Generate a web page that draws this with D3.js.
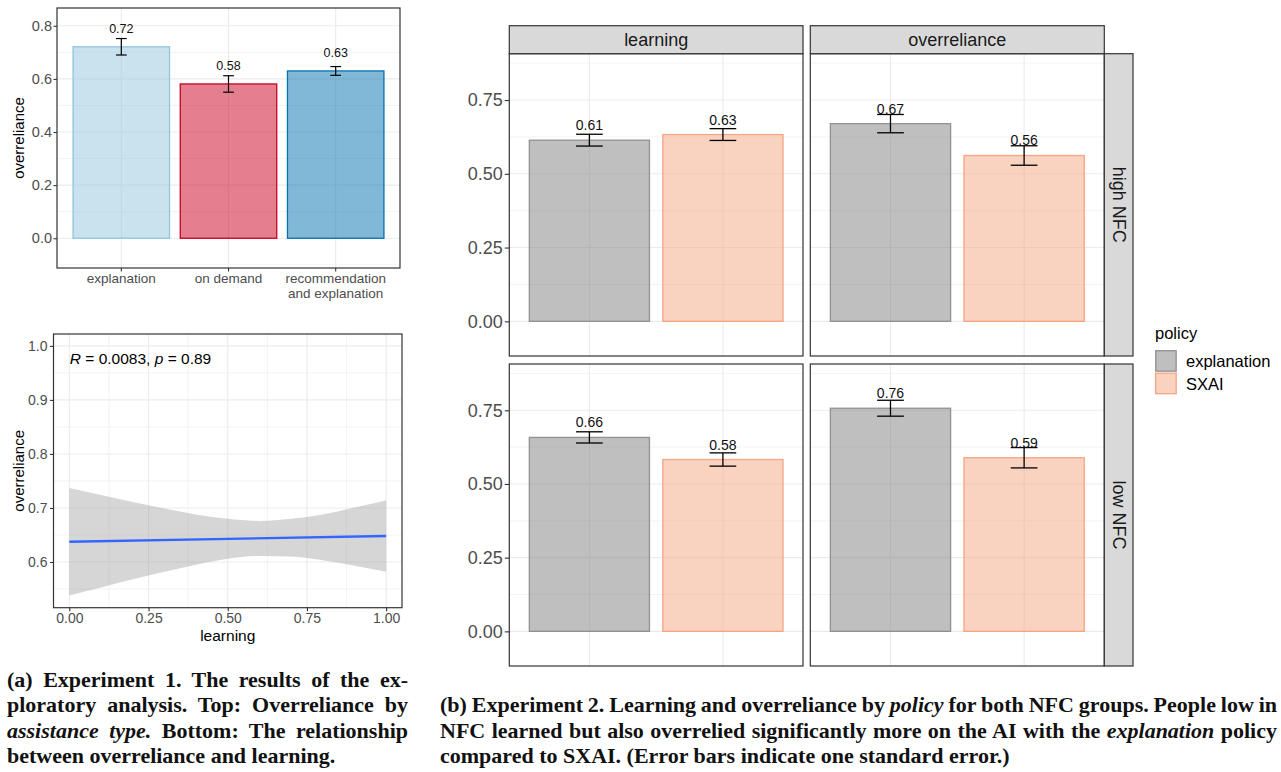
<!DOCTYPE html>
<html>
<head>
<meta charset="utf-8">
<script src="https://cdn.jsdelivr.net/npm/d3@7"></script>
<style>
  body { margin: 0; background: #fff; }
  svg { display: block; font-family: "Liberation Sans", Arial, sans-serif; }
  .cap { font-family: "Liberation Serif", "DejaVu Serif", serif; font-weight: bold; white-space: pre; }
</style>
</head>
<body>
<svg id="fig" width="1281" height="772"></svg>
<script>
// ---------- Experiment 1: overreliance by assistance type ----------
const assistTypes = ["explanation", "on demand", "recommendation and explanation"];
const assistTickLines = [["explanation"], ["on demand"], ["recommendation", "and explanation"]];
const assistMean = [0.721, 0.581, 0.630];
const assistSE = [0.031, 0.031, 0.0165];
const assistTicks = [0, 0.2, 0.4, 0.6, 0.8];
const assistMinor = [-0.1, 0.1, 0.3, 0.5, 0.7];

// ---------- Experiment 1: overreliance vs learning (linear fit + 95% band) ----------
const fitLearning = [0, 1];
const fitOverreliance = [0.6376, 0.6480];
const bandLearning = [0, 0.1, 0.2, 0.3, 0.4, 0.5, 0.6, 0.7, 0.8, 0.9, 1.0];
const bandUpper = [0.737, 0.724, 0.711, 0.699, 0.688, 0.680, 0.676, 0.680, 0.688, 0.701, 0.714];
const bandLower = [0.538, 0.553, 0.568, 0.582, 0.595, 0.606, 0.611, 0.610, 0.603, 0.593, 0.582];
const learningTicks = [0, 0.25, 0.5, 0.75, 1.0];
const learningMinor = [0.125, 0.375, 0.625, 0.875];
const relianceTicks = [0.6, 0.7, 0.8, 0.9, 1.0];
const relianceMinor = [0.55, 0.65, 0.75, 0.85, 0.95];
const corrR = "0.0083";
const corrP = "0.89";

// ---------- Experiment 2: learning / overreliance by policy and NFC ----------
const measures = ["learning", "overreliance"];
const nfcGroups = ["high NFC", "low NFC"];
const policies = ["explanation", "SXAI"];
const learningHighNFC = [0.614, 0.633];
const learningHighNFCse = [0.020, 0.020];
const overrelianceHighNFC = [0.670, 0.562];
const overrelianceHighNFCse = [0.031, 0.033];
const learningLowNFC = [0.658, 0.583];
const learningLowNFCse = [0.019, 0.0225];
const overrelianceLowNFC = [0.757, 0.589];
const overrelianceLowNFCse = [0.027, 0.0345];
const facetTicks = [0, 0.25, 0.5, 0.75];
const facetMinor = [0.125, 0.375, 0.625, 0.875];

// ---------- styles ----------
const assistColors = ["#92c5de", "#ca0020", "#0571b0"];
const policyFill = ["#7f7f7f", "#f4a582"];
const policyStroke = ["#7f7f7f", "#f4a582"];
const GRID = "#ebebeb", BORDER = "#333333", TICKTXT = "#4d4d4d";

const svg = d3.select("#fig");
svg.append("rect").attr("width", 1281).attr("height", 772).attr("fill", "#fff");

function hGrid(g, y, vals, x0, x1, w) {
  g.selectAll(null).data(vals).enter().append("line")
    .attr("x1", x0).attr("x2", x1).attr("y1", d => y(d)).attr("y2", d => y(d))
    .attr("stroke", GRID).attr("stroke-width", w);
}
function vGrid(g, xs, y0, y1, w) {
  g.selectAll(null).data(xs).enter().append("line")
    .attr("x1", d => d).attr("x2", d => d).attr("y1", y0).attr("y2", y1)
    .attr("stroke", GRID).attr("stroke-width", w);
}
function border(g, x0, y0, x1, y1) {
  g.append("rect").attr("x", x0).attr("y", y0).attr("width", x1 - x0).attr("height", y1 - y0)
    .attr("fill", "none").attr("stroke", BORDER).attr("stroke-width", 1.2);
}
function styleAxis(sel, size) {
  sel.select(".domain").remove();
  sel.selectAll(".tick line").attr("stroke", BORDER).attr("stroke-width", 1.1);
  sel.selectAll(".tick text").attr("fill", TICKTXT).attr("font-size", size)
    .attr("font-family", "'Liberation Sans', Arial, sans-serif");
}

// ================= Panel A: bars by assistance type =================
{
  const X0 = 57, X1 = 400, Y0 = 8, Y1 = 268;
  const x = d3.scaleBand().domain(assistTypes).range([X0, X1]).paddingInner(0.1).paddingOuter(0.15);
  const y = d3.scaleLinear().domain([-0.112, 0.867]).range([Y1, Y0]);
  const g = svg.append("g");
  g.append("rect").attr("x", X0).attr("y", Y0).attr("width", X1 - X0).attr("height", Y1 - Y0).attr("fill", "#fff");
  hGrid(g, y, assistMinor, X0, X1, 0.6);
  hGrid(g, y, assistTicks, X0, X1, 1.1);
  vGrid(g, assistTypes.map(c => x(c) + x.bandwidth() / 2), Y0, Y1, 1.1);

  const rows = assistTypes.map((c, i) => ({ c, m: assistMean[i], se: assistSE[i], col: assistColors[i] }));
  g.selectAll(".bar").data(rows).enter().append("rect")
    .attr("x", d => x(d.c)).attr("width", x.bandwidth())
    .attr("y", d => y(d.m)).attr("height", d => y(0) - y(d.m))
    .attr("fill", d => d.col).attr("fill-opacity", 0.5)
    .attr("stroke", d => d.col).attr("stroke-width", 1.3);

  const cap = x.step() * 0.1;
  const eb = g.selectAll(".eb").data(rows).enter().append("g")
    .attr("stroke", "#000").attr("stroke-width", 1.2);
  eb.append("line").attr("x1", d => x(d.c) + x.bandwidth() / 2).attr("x2", d => x(d.c) + x.bandwidth() / 2)
    .attr("y1", d => y(d.m - d.se)).attr("y2", d => y(d.m + d.se));
  [-1, 1].forEach(s => eb.append("line")
    .attr("x1", d => x(d.c) + x.bandwidth() / 2 - cap / 2).attr("x2", d => x(d.c) + x.bandwidth() / 2 + cap / 2)
    .attr("y1", d => y(d.m + s * d.se)).attr("y2", d => y(d.m + s * d.se)));

  g.selectAll(".lbl").data(rows).enter().append("text")
    .attr("x", d => x(d.c) + x.bandwidth() / 2).attr("y", d => y(d.m) - 13.5)
    .attr("text-anchor", "middle").attr("font-size", 12.5).attr("fill", "#111")
    .text(d => d3.format(".2f")(d.m));

  border(g, X0, Y0, X1, Y1);

  g.append("g").attr("transform", `translate(${X0},0)`)
    .call(d3.axisLeft(y).tickValues(assistTicks).tickFormat(d3.format(".1f")).tickSize(3.5).tickPadding(1.5))
    .call(styleAxis, 14.5);
  const ax = g.append("g").attr("transform", `translate(0,${Y1})`)
    .call(d3.axisBottom(x).tickSize(3.5).tickPadding(2))
    .call(styleAxis, 13.5);
  ax.selectAll(".tick text").each(function (d, i) {
    const t = d3.select(this).text(null);
    assistTickLines[i].forEach((ln, k) => t.append("tspan").attr("x", 0).attr("dy", k === 0 ? "0.71em" : "1.1em").text(ln));
  }).attr("dy", null);

  g.append("text").attr("transform", `translate(18,${(Y0 + Y1) / 2}) rotate(-90)`)
    .attr("text-anchor", "middle").attr("dominant-baseline", "central")
    .attr("font-size", 15).attr("fill", "#000").text("overreliance");
}

// ================= Panel B: overreliance vs learning =================
{
  const X0 = 53.5, X1 = 402, Y0 = 334, Y1 = 607.7;
  const x = d3.scaleLinear().domain([-0.05, 1.05]).range([X0, X1]);
  const y = d3.scaleLinear().domain([0.5154, 1.022]).range([Y1, Y0]);
  const g = svg.append("g");
  g.append("rect").attr("x", X0).attr("y", Y0).attr("width", X1 - X0).attr("height", Y1 - Y0).attr("fill", "#fff");
  hGrid(g, y, relianceMinor, X0, X1, 0.6);
  vGrid(g, learningMinor.map(x), Y0, Y1, 0.6);
  hGrid(g, y, relianceTicks, X0, X1, 1.1);
  vGrid(g, learningTicks.map(x), Y0, Y1, 1.1);

  const band = bandLearning.map((v, i) => ({ v, hi: bandUpper[i], lo: bandLower[i] }));
  g.append("path").datum(band)
    .attr("d", d3.area().x(d => x(d.v)).y0(d => y(d.lo)).y1(d => y(d.hi)).curve(d3.curveMonotoneX))
    .attr("fill", "#999999").attr("fill-opacity", 0.4);
  const fit = fitLearning.map((v, i) => ({ v, o: fitOverreliance[i] }));
  g.append("path").datum(fit)
    .attr("d", d3.line().x(d => x(d.v)).y(d => y(d.o)))
    .attr("fill", "none").attr("stroke", "#3366FF").attr("stroke-width", 2.4);

  const t = g.append("text").attr("x", x(0) + 0.5).attr("y", 363.5).attr("font-size", 15.5).attr("fill", "#000")
    .style("white-space", "pre");
  t.append("tspan").attr("font-style", "italic").text("R");
  t.append("tspan").text(" = " + corrR + ", ");
  t.append("tspan").attr("font-style", "italic").text("p");
  t.append("tspan").text(" = " + corrP);

  border(g, X0, Y0, X1, Y1);
  g.append("g").attr("transform", `translate(${X0},0)`)
    .call(d3.axisLeft(y).tickValues(relianceTicks).tickFormat(d3.format(".1f")).tickSize(3.5).tickPadding(2.5))
    .call(styleAxis, 14);
  g.append("g").attr("transform", `translate(0,${Y1})`)
    .call(d3.axisBottom(x).tickValues(learningTicks).tickFormat(d3.format(".2f")).tickSize(3.5).tickPadding(2))
    .call(styleAxis, 14);
  g.append("text").attr("x", (X0 + X1) / 2).attr("y", 640.5).attr("text-anchor", "middle")
    .attr("font-size", 15.5).attr("fill", "#000").text("learning");
  g.append("text").attr("transform", `translate(18,${(Y0 + Y1) / 2}) rotate(-90)`)
    .attr("text-anchor", "middle").attr("dominant-baseline", "central")
    .attr("font-size", 15).attr("fill", "#000").text("overreliance");
}

// ================= Panel C: faceted bars by policy =================
{
  const colX = [[509.3, 803], [810.3, 1104.3]];
  const rowY = [[53.7, 356], [364, 666]];
  const stripTop = 25.7, stripRight = 1133;
  const facets = [
    { m: 0, r: 0, mean: learningHighNFC, se: learningHighNFCse },
    { m: 1, r: 0, mean: overrelianceHighNFC, se: overrelianceHighNFCse },
    { m: 0, r: 1, mean: learningLowNFC, se: learningLowNFCse },
    { m: 1, r: 1, mean: overrelianceLowNFC, se: overrelianceLowNFCse }
  ];
  const g = svg.append("g");

  facets.forEach(f => {
    const [X0, X1] = colX[f.m], [Y0, Y1] = rowY[f.r];
    const x = d3.scaleBand().domain(policies).range([X0, X1]).paddingInner(0.1).paddingOuter(0.15);
    const y = d3.scaleLinear().domain([-0.1175, 0.907]).range([Y1, Y0]);
    const p = g.append("g");
    p.append("rect").attr("x", X0).attr("y", Y0).attr("width", X1 - X0).attr("height", Y1 - Y0).attr("fill", "#fff");
    hGrid(p, y, facetMinor, X0, X1, 0.6);
    hGrid(p, y, facetTicks, X0, X1, 1.1);
    vGrid(p, policies.map(c => x(c) + x.bandwidth() / 2), Y0, Y1, 1.1);

    const rows = policies.map((c, i) => ({ c, i, m: f.mean[i], se: f.se[i] }));
    p.selectAll(".bar").data(rows).enter().append("rect")
      .attr("x", d => x(d.c)).attr("width", x.bandwidth())
      .attr("y", d => y(d.m)).attr("height", d => y(0) - y(d.m))
      .attr("fill", d => policyFill[d.i]).attr("fill-opacity", 0.5)
      .attr("stroke", d => policyStroke[d.i]).attr("stroke-opacity", d => d.i === 0 ? 0.8 : 1)
      .attr("stroke-width", 1.3);

    const cap = x.step() * 0.2;
    const eb = p.selectAll(".eb").data(rows).enter().append("g")
      .attr("stroke", "#000").attr("stroke-width", 1.3);
    eb.append("line").attr("x1", d => x(d.c) + x.bandwidth() / 2).attr("x2", d => x(d.c) + x.bandwidth() / 2)
      .attr("y1", d => y(d.m - d.se)).attr("y2", d => y(d.m + d.se));
    [-1, 1].forEach(s => eb.append("line")
      .attr("x1", d => x(d.c) + x.bandwidth() / 2 - cap / 2).attr("x2", d => x(d.c) + x.bandwidth() / 2 + cap / 2)
      .attr("y1", d => y(d.m + s * d.se)).attr("y2", d => y(d.m + s * d.se)));

    p.selectAll(".lbl").data(rows).enter().append("text")
      .attr("x", d => x(d.c) + x.bandwidth() / 2).attr("y", d => y(d.m) - 10)
      .attr("text-anchor", "middle").attr("font-size", 14).attr("fill", "#111")
      .text(d => d3.format(".2f")(d.m));

    border(p, X0, Y0, X1, Y1);

    if (f.m === 0) {
      p.append("g").attr("transform", `translate(${X0},0)`)
        .call(d3.axisLeft(y).tickValues(facetTicks).tickFormat(d3.format(".2f")).tickSize(4.5).tickPadding(2))
        .call(styleAxis, 18);
    }
  });

  // column strips
  measures.forEach((mName, i) => {
    const [X0, X1] = colX[i];
    g.append("rect").attr("x", X0).attr("y", stripTop).attr("width", X1 - X0).attr("height", rowY[0][0] - stripTop)
      .attr("fill", "#d9d9d9").attr("stroke", BORDER).attr("stroke-width", 1.2);
    g.append("text").attr("x", (X0 + X1) / 2).attr("y", (stripTop + rowY[0][0]) / 2)
      .attr("text-anchor", "middle").attr("dominant-baseline", "central")
      .attr("font-size", 18).attr("fill", "#1a1a1a").text(mName);
  });
  // row strips
  nfcGroups.forEach((gName, j) => {
    const [Y0, Y1] = rowY[j];
    const sx0 = colX[1][1];
    g.append("rect").attr("x", sx0).attr("y", Y0).attr("width", stripRight - sx0).attr("height", Y1 - Y0)
      .attr("fill", "#d9d9d9").attr("stroke", BORDER).attr("stroke-width", 1.2);
    g.append("text").attr("transform", `translate(${(sx0 + stripRight) / 2},${(Y0 + Y1) / 2}) rotate(90)`)
      .attr("text-anchor", "middle").attr("dominant-baseline", "central")
      .attr("font-size", 18).attr("fill", "#1a1a1a").text(gName);
  });

  // legend
  const lg = g.append("g").attr("transform", "translate(1155,0)");
  lg.append("text").attr("x", 0).attr("y", 333).attr("dominant-baseline", "central")
    .attr("font-size", 16.5).attr("fill", "#000").text("policy");
  policies.forEach((pName, i) => {
    const ky = 350 + i * 22.5;
    lg.append("rect").attr("x", 0.7).attr("y", ky + 0.7).attr("width", 20.5).attr("height", 20.5)
      .attr("fill", policyFill[i]).attr("fill-opacity", 0.5)
      .attr("stroke", policyStroke[i]).attr("stroke-opacity", i === 0 ? 0.8 : 1).attr("stroke-width", 1.3);
    lg.append("text").attr("x", 31).attr("y", ky + 11).attr("dominant-baseline", "central")
      .attr("font-size", 16.5).attr("fill", "#000").text(pName);
  });
}

// ================= captions =================
function captionLine(x, y, parts, width) {
  const t = svg.append("text").attr("class", "cap").attr("x", x).attr("y", y)
    .attr("font-size", 22).attr("fill", "#111");
  parts.forEach(p => t.append("tspan").attr("font-style", p.i ? "italic" : null).text(p.t));
  if (width) {
    const node = t.node();
    const natural = node.getComputedTextLength();
    const spaces = (node.textContent.match(/ /g) || []).length;
    if (spaces) t.attr("word-spacing", (width - natural) / spaces);
  }
}
const capA = [
  [{ t: "(a) Experiment 1. The results of the ex-" }],
  [{ t: "ploratory analysis. Top: Overreliance by" }],
  [{ t: "assistance type.", i: true }, { t: " Bottom: The relationship" }],
  [{ t: "between overreliance and learning." }]
];
const capAy = [686.5, 712, 737.5, 763];
capA.forEach((ln, k) => captionLine(7, capAy[k], ln, k < 3 ? 401 : null));

const capB = [
  [{ t: "(b) Experiment 2. Learning and overreliance by " }, { t: "policy", i: true }, { t: " for both NFC groups. People low in" }],
  [{ t: "NFC learned but also overrelied significantly more on the AI with the " }, { t: "explanation", i: true }, { t: " policy" }],
  [{ t: "compared to SXAI. (Error bars indicate one standard error.)" }]
];
const capBy = [712, 737.5, 763];
capB.forEach((ln, k) => captionLine(440, capBy[k], ln, k < 2 ? 837 : null));
</script>
</body>
</html>
